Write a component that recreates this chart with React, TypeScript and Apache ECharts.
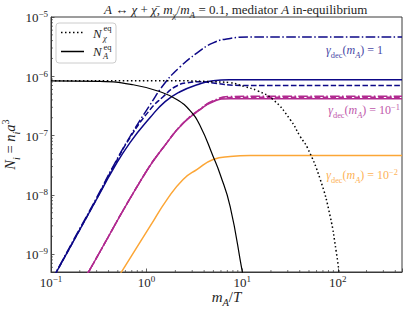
import React, { useEffect, useRef } from 'react';
import * as echarts from 'echarts';

const SERIF = "'Liberation Serif', 'DejaVu Serif', serif";
const TXT = '#262626';
const AX = '#3a3a3a';

const X_MIN = 0.1;
const X_MAX = 470;
const Y_MIN = 5e-10;
const Y_MAX = 1e-5;

const BLUE = '#0d0887';
const MAGENTA = '#b12a90';
const ORANGE = '#fca636';

// gamma_dec(m_A) = 1 (blue)
const blueSolid: [number, number][] = [
  [0.1, 3.4e-10], [0.1155, 5.2e-10], [0.2, 2.58e-9], [0.3, 8.43e-9], [0.446, 2.69e-8],
  [0.671, 7.62e-8], [1.089, 2.01e-7], [1.563, 3.73e-7], [2.24, 5.49e-7], [3.38, 7.19e-7],
  [4.97, 8.4e-7], [7.48, 8.73e-7], [15, 8.75e-7], [470, 8.75e-7],
];
const blueDashed: [number, number][] = [
  [0.1, 3.4e-10], [0.1155, 5.2e-10], [0.2, 2.6e-9], [0.3, 8.6e-9], [0.446, 2.9e-8],
  [0.671, 9.25e-8], [1.089, 2.74e-7], [1.49, 4.52e-7], [1.99, 6.66e-7], [2.66, 7.78e-7],
  [3.63, 8.09e-7], [5.21, 7.63e-7], [8.45, 7.06e-7], [15.4, 6.98e-7], [470, 6.98e-7],
];
const blueDashDot: [number, number][] = [
  [0.1, 3.5e-10], [0.1155, 5.3e-10], [0.2, 2.7e-9], [0.3, 8.9e-9], [0.446, 3.01e-8],
  [0.671, 9.62e-8], [1.089, 3.32e-7], [1.563, 7.78e-7], [2.24, 1.44e-6], [3.38, 2.48e-6],
  [4.97, 3.66e-6], [7.48, 4.35e-6], [12.1, 4.61e-6], [470, 4.62e-6],
];

// gamma_dec(m_A) = 1e-1 (magenta)
const magentaSolid: [number, number][] = [
  [0.2, 2.74e-10], [0.25, 5.18e-10], [0.926, 2.07e-8], [1.627, 7.54e-8], [2.43, 1.63e-7],
  [3.63, 2.74e-7], [4.97, 3.73e-7], [7.48, 4.19e-7], [12.1, 4.19e-7], [470, 4.19e-7],
];
const magentaDashed: [number, number][] = [
  [0.2, 2.74e-10], [0.25, 5.18e-10], [0.926, 2.07e-8], [1.627, 7.54e-8], [2.43, 1.63e-7],
  [3.63, 2.76e-7], [4.97, 3.8e-7], [7.48, 4.39e-7], [12.1, 4.44e-7], [470, 4.44e-7],
];
const magentaDashDot: [number, number][] = [
  [0.2, 2.74e-10], [0.25, 5.18e-10], [0.926, 2.07e-8], [1.627, 7.54e-8], [2.43, 1.64e-7],
  [3.63, 2.8e-7], [4.97, 3.88e-7], [7.48, 4.56e-7], [12.1, 4.61e-7], [470, 4.61e-7],
];

// gamma_dec(m_A) = 1e-2 (orange)
const orangeSolid: [number, number][] = [
  [0.45, 3.04e-10], [0.553, 5.18e-10], [1.089, 2.96e-9], [1.64, 8.4e-9], [2.41, 1.82e-8],
  [3.38, 2.69e-8], [4.97, 3.95e-8], [7.48, 4.44e-8], [12.1, 4.61e-8], [470, 4.61e-8],
];

// equilibrium curves (black)
const chiEq: [number, number][] = [
  [0.1, 8.45e-7], [2.24, 8.4e-7], [4.97, 8.09e-7], [7.48, 7.78e-7], [10.75, 6.66e-7],
  [14.4, 5.71e-7], [21.1, 4.03e-7], [31.8, 1.86e-7], [40.5, 9.62e-8], [48.0, 6.29e-8],
  [65.6, 1.82e-8], [83.4, 4.3e-9], [96.4, 1.1e-9], [103.7, 4.6e-10],
];
const aEq: [number, number][] = [
  [0.1, 8.4e-7], [0.326, 8.2e-7], [0.723, 7.19e-7], [1.385, 5.49e-7], [2.09, 4.03e-7],
  [2.85, 2.63e-7], [3.63, 1.47e-7], [4.97, 4.44e-8], [5.89, 2.21e-8], [7.48, 6.41e-9],
  [10.0, 5.18e-10], [10.8, 2.6e-10],
];

const xMinorTicks = [
  0.2, 0.3, 0.4, 0.5, 0.6, 0.7, 0.8, 0.9, 2, 3, 4, 5, 6, 7, 8, 9,
  20, 30, 40, 50, 60, 70, 80, 90, 200, 300, 400,
];
const yMinorTicks = [
  6e-10, 7e-10, 8e-10, 9e-10,
  2e-9, 3e-9, 4e-9, 5e-9, 6e-9, 7e-9, 8e-9, 9e-9,
  2e-8, 3e-8, 4e-8, 5e-8, 6e-8, 7e-8, 8e-8, 9e-8,
  2e-7, 3e-7, 4e-7, 5e-7, 6e-7, 7e-7, 8e-7, 9e-7,
  2e-6, 3e-6, 4e-6, 5e-6, 6e-6, 7e-6, 8e-6, 9e-6,
];

const TITLE = '{i|A} {r|↔} {i|χ} {r|+} {i|χ\u0304}{r|,} {i|m}{sub|χ}{r|/}{i|m}{sub|A} {r|= 0.1, mediator} {i|A} {r|in-equilibrium}';
const X_NAME = '{i|m}{sub|A}{r|/}{i|T}';
const Y_NAME = '{i|N}{sub|i}{r| = }{i|n}{sub|i}{i|a}{sup|3}';

const curveLabels = [
  { text: '{g|γ}{sd|dec}{r|(}{i|m}{sa|A}{r|) = 1}', x: 383, y: 51.5, color: '#4848a6' },
  { text: '{g|γ}{sd|dec}{r|(}{i|m}{sa|A}{r|) = 10}{p|−1}', x: 400, y: 111, color: '#c058ab' },
  { text: '{g|γ}{sd|dec}{r|(}{i|m}{sa|A}{r|) = 10}{p|−2}', x: 398, y: 176, color: '#fdb257' },
];

function mathRich(size: number, color: string) {
  const pb = Math.round(size * 0.25);
  const small = size * 0.7;
  const base = { fontFamily: SERIF, color, fill: color, fontWeight: 'normal', verticalAlign: 'bottom' as const };
  return {
    r: { ...base, fontSize: size, padding: [0, 0, pb, 0] },
    i: { ...base, fontSize: size, fontStyle: 'italic', padding: [0, 0, pb, 0] },
    g: { ...base, fontSize: size, fontStyle: 'italic', padding: [0, 0, pb, 0] },
    sub: { ...base, fontSize: small, fontStyle: 'italic', padding: [0, 0, 0, 0] },
    sa: { ...base, fontSize: small, fontStyle: 'italic', padding: [0, 0, 0, 0] },
    sd: { ...base, fontSize: small, padding: [0, 0, 0, 0] },
    sup: { ...base, fontSize: small, padding: [0, 0, pb + Math.round(size * 0.45), 0] },
    p: { ...base, fontSize: small, padding: [0, 0, pb + Math.round(size * 0.45), 0] },
  };
}

const tickRich = {
  b: { fontFamily: SERIF, fontSize: 13, color: TXT, verticalAlign: 'bottom' },
  s: { fontFamily: SERIF, fontSize: 9, color: TXT, verticalAlign: 'bottom', padding: [0, 0, 5.5, 0] },
};

function powLabel(v: number) {
  const e = Math.log10(v);
  const r = Math.round(e);
  if (Math.abs(e - r) > 1e-6) return '';
  return `{b|10}{s|${r < 0 ? '−' + -r : r}}`;
}

function line(name: string, data: [number, number][], color: string, width: number, type: any, z: number) {
  return {
    type: 'line', name, data, smooth: 0.5, symbol: 'none', showSymbol: false, clip: true, silent: true, z,
    lineStyle: { color, width, type, cap: 'butt' },
  };
}

function tickSeries(data: [number, number][], horizontal: boolean, len: number) {
  return {
    type: 'custom', silent: true, z: 6, clip: false, data,
    renderItem: (_p: any, api: any) => {
      const c = api.coord([api.value(0), api.value(1)]);
      return {
        type: 'line',
        shape: horizontal
          ? { x1: c[0], y1: c[1], x2: c[0] + len, y2: c[1] }
          : { x1: c[0], y1: c[1], x2: c[0], y2: c[1] - len },
        style: { stroke: AX, lineWidth: 0.7 },
      };
    },
  };
}

function legendText(x: number, y: number, main: string, sup: string, sub: string, subItalic: boolean) {
  return [
    { type: 'text', x, y, z: 102, style: { text: main, fontFamily: SERIF, fontSize: 13, fontStyle: 'italic', fill: TXT, verticalAlign: 'middle' } },
    { type: 'text', x: x + 10.5, y: y - 5, z: 102, style: { text: sup, fontFamily: SERIF, fontSize: 8.5, fill: TXT, verticalAlign: 'middle' } },
    { type: 'text', x: x + 10, y: y + 4.5, z: 102, style: { text: sub, fontFamily: SERIF, fontSize: 8.5, fontStyle: subItalic ? 'italic' : 'normal', fill: TXT, verticalAlign: 'middle' } },
  ];
}

export default function App() {
  const ref = useRef<HTMLDivElement>(null);
  useEffect(() => {
    const chart = echarts.init(ref.current!, null, { renderer: 'svg' });
    const option: any = {
      animation: false,
      backgroundColor: '#ffffff',
      title: {
        text: TITLE,
        left: 104,
        top: 0,
        padding: [3, 0, 3, 0],
        textStyle: { fontFamily: SERIF, fontSize: 13, fontWeight: 'normal', color: TXT, rich: mathRich(13, TXT) },
      },
      grid: {
        left: 51, right: 11, top: 17, bottom: 38, show: true, borderColor: AX, borderWidth: 1,
        backgroundColor: 'transparent', containLabel: false, outerBoundsMode: 'none',
      },
      xAxis: {
        type: 'log', logBase: 10, min: X_MIN, max: X_MAX,
        axisLine: { show: true, lineStyle: { color: AX, width: 1 } },
        axisTick: { show: true, inside: true, length: 3.5, lineStyle: { color: AX, width: 0.8 } },
        axisLabel: { formatter: powLabel, margin: 2, rich: tickRich },
        splitLine: { show: false },
        minorTick: { show: false },
        name: X_NAME, nameLocation: 'middle', nameGap: 17, nameMoveOverlap: false,
        nameTextStyle: { rich: mathRich(15, TXT) },
      },
      yAxis: {
        type: 'log', logBase: 10, min: Y_MIN, max: Y_MAX,
        axisLine: { show: true, lineStyle: { color: AX, width: 1 } },
        axisTick: { show: true, inside: true, length: 3.5, lineStyle: { color: AX, width: 0.8 } },
        axisLabel: { formatter: powLabel, margin: 3, rich: tickRich },
        splitLine: { show: false },
        minorTick: { show: false },
        name: Y_NAME, nameLocation: 'middle', nameGap: 30, nameMoveOverlap: false,
        nameTextStyle: { rich: mathRich(14.5, TXT) },
      },
      series: [
        line('orange', orangeSolid, ORANGE, 1.5, 'solid', 2),
        line('magenta', magentaSolid, MAGENTA, 1.5, 'solid', 2),
        line('magenta dashed', magentaDashed, MAGENTA, 1.5, [5.55, 2.4], 2),
        line('magenta dashdot', magentaDashDot, MAGENTA, 1.5, [9.6, 2.4, 1.5, 2.4], 2),
        line('blue', blueSolid, BLUE, 1.5, 'solid', 3),
        line('blue dashed', blueDashed, BLUE, 1.5, [5.55, 2.4], 3),
        line('blue dashdot', blueDashDot, BLUE, 1.5, [9.6, 2.4, 1.5, 2.4], 3),
        line('N_chi_eq', chiEq, '#000000', 1.5, [1.5, 2.5], 4),
        line('N_A_eq', aEq, '#000000', 1.2, 'solid', 4),
        tickSeries(xMinorTicks.map((v) => [v, Y_MIN] as [number, number]), false, 2),
        tickSeries(yMinorTicks.map((v) => [X_MIN, v] as [number, number]), true, 2),
      ],
      graphic: [
        { type: 'rect', z: 100, shape: { x: 56, y: 23, width: 60, height: 40, r: 3 }, style: { fill: 'rgba(255,255,255,0.8)', stroke: '#cccccc', lineWidth: 1 } },
        { type: 'line', z: 101, shape: { x1: 61, y1: 32.5, x2: 84, y2: 32.5 }, style: { stroke: '#000', lineWidth: 1.5, lineDash: [1.5, 2.5] } },
        { type: 'line', z: 101, shape: { x1: 61, y1: 51.5, x2: 84, y2: 51.5 }, style: { stroke: '#000', lineWidth: 1.5 } },
        ...legendText(93, 33, 'N', 'eq', 'χ', true),
        ...legendText(93, 51.5, 'N', 'eq', 'A', true),
        ...curveLabels.map((c) => ({
          type: 'text', x: c.x, y: c.y, z: 102,
          style: { text: c.text, align: 'right', verticalAlign: 'middle', fill: c.color, fontFamily: SERIF, fontSize: 12, rich: mathRich(12, c.color) },
        })),
      ],
    };
    chart.setOption(option);
    return () => chart.dispose();
  }, []);
  return <div ref={ref} style={{ position: 'fixed', left: 0, top: 0, width: 413, height: 310 }} />;
}
